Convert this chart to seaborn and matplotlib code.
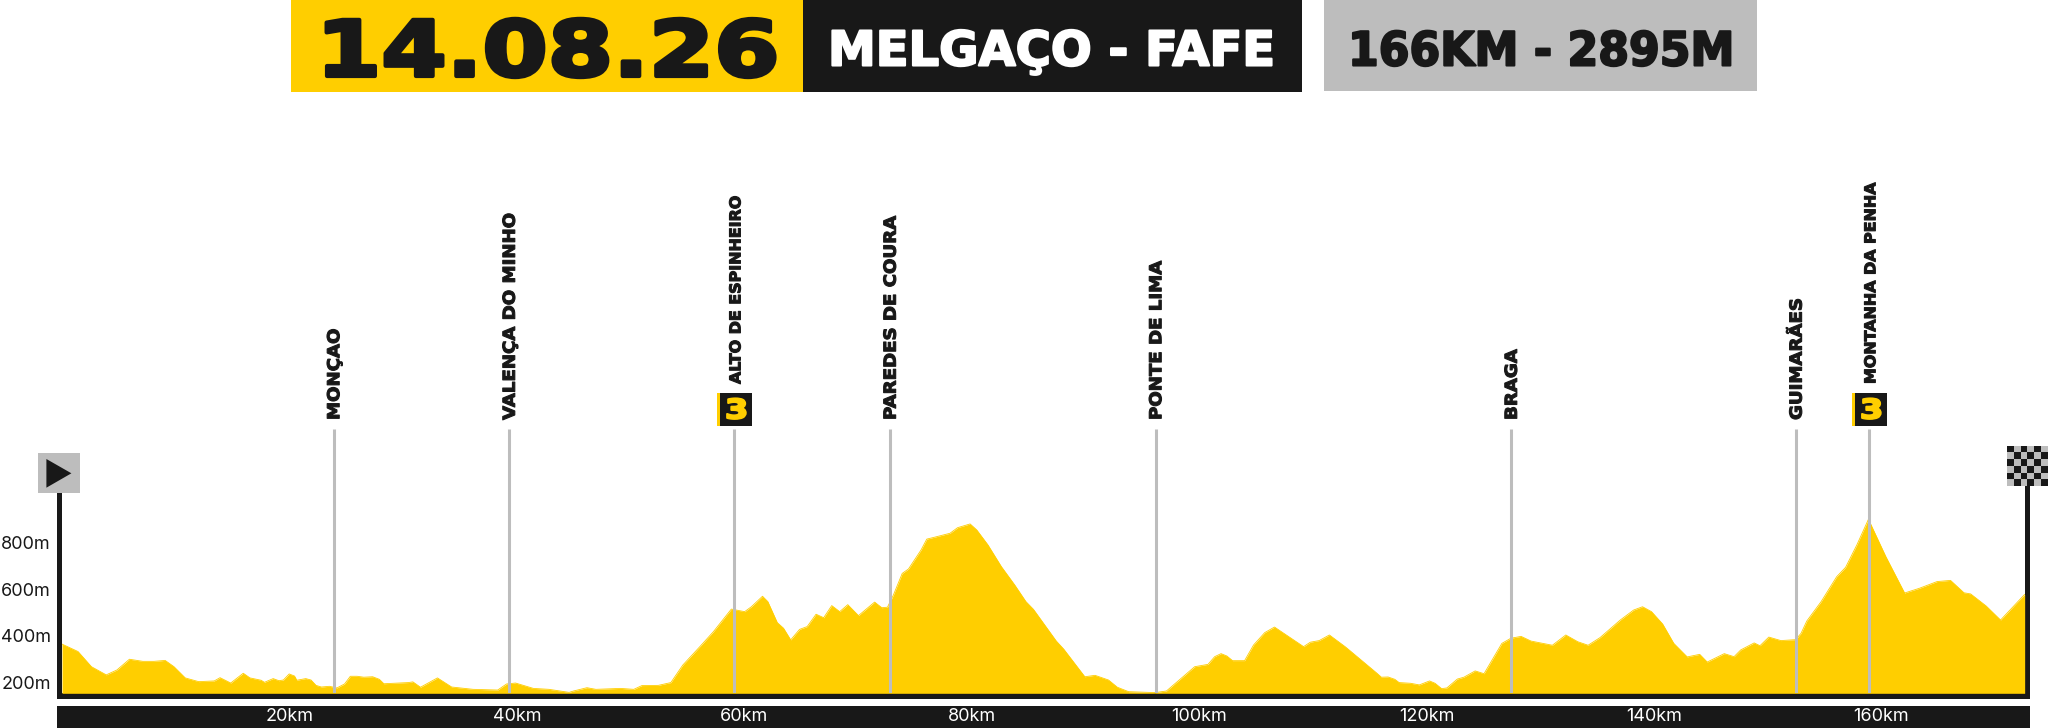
import numpy as np
import matplotlib
matplotlib.use("Agg")
import matplotlib.pyplot as plt
from matplotlib.patches import Rectangle, Polygon
from matplotlib.patheffects import AbstractPathEffect
from matplotlib.transforms import Affine2D, ScaledTranslation
import seaborn as sns

# profile
km = [0, 1.41, 2.59, 3.89, 4.83, 5.93, 7.11, 8.09, 9.07, 9.85, 10.84, 12.02, 13.39, 13.9, 14.84, 15.94,
      16.53, 17.51, 17.8, 18.57, 19.08, 19.47, 19.98, 20.45, 20.65, 21.44, 21.9, 22.34, 22.81, 23.52,
      24.18, 24.85, 25.36, 25.95, 26.54, 27.32, 27.91, 28.31, 30.47, 30.86, 31.53, 33.02, 34.27, 36.16,
      38.32, 39.1, 39.89, 41.46, 42.83, 44.6, 45.0, 46.17, 46.96, 49.11, 50.29, 51.0, 52.45, 53.55,
      54.6, 56.1, 57.29, 58.87, 60.04, 60.63, 61.61, 62.08, 62.91, 63.46, 64.09, 64.87, 65.54, 66.32,
      66.99, 67.7, 68.4, 69.11, 70.05, 71.47, 72.1, 72.6, 73.12, 73.9, 74.45, 75.55, 76.06, 76.73,
      78.1, 78.77, 79.87, 80.46, 81.44, 82.62, 83.8, 84.78, 85.44, 87.45, 88.11, 89.96, 90.86, 92.04,
      92.82, 93.81, 96.16, 97.14, 99.62, 100.79, 101.38, 101.94, 102.45, 102.95, 104.01, 104.8, 105.78,
      106.64, 109.2, 109.79, 110.57, 111.47, 112.85, 113.1, 115.65, 116.04, 116.63, 117.22, 117.6,
      118.6, 119.38, 120.28, 120.76, 121.34, 121.8, 122.72, 123.3, 124.29, 125.07, 126.64, 127.43,
      128.33, 129.2, 131.08, 132.26, 133.32, 134.22, 135.28, 137.05, 138.23, 139.01, 139.8, 140.78,
      141.76, 142.94, 144.04, 144.7, 146.2, 147.06, 147.65, 148.83, 149.34, 150.12, 151.18, 152.48,
      152.95, 153.46, 154.72, 156.09, 156.87, 157.86, 158.88, 160.41, 162.06, 163.35, 164.92, 166.1,
      167.28, 167.87, 169.24, 170.5, 172.62]
elevation = [376, 344, 279, 244, 265, 311, 302, 302, 306, 279, 231, 215, 218, 232, 209, 251,
             231, 221, 212, 228, 219, 222, 248, 239, 221, 228, 222, 199, 192, 195,
             188, 205, 238, 238, 234, 236, 225, 206, 211, 214, 191, 231, 192, 182,
             179, 205, 209, 186, 182, 169, 175, 189, 182, 186, 182, 198, 199, 211,
             286, 365, 429, 526, 515, 536, 581, 558, 468, 444, 394, 439, 451, 504,
             489, 541, 515, 545, 498, 556, 532, 534, 586, 679, 698, 779, 826, 834,
             851, 875, 891, 865, 801, 708, 629, 558, 525, 389, 354, 236, 242, 222,
             191, 172, 168, 175, 279, 289, 322, 335, 325, 305, 305, 372, 425,
             449, 365, 384, 391, 415, 365, 355, 251, 234, 235, 225, 211,
             208, 201, 218, 208, 185, 188, 226, 234, 261, 249, 379, 401,
             409, 389, 371, 415, 386, 371, 404, 479, 522, 536, 515, 462,
             379, 321, 332, 299, 335, 322, 351, 381, 369, 406, 391, 395,
             422, 475, 558, 665, 705, 801, 911, 751, 595, 615, 644, 649,
             596, 591, 539, 479, 589]

place_names = ["MONÇAO", "VALENÇA DO MINHO", "ALTO DE ESPINHEIRO", "PAREDES DE COURA",
               "PONTE DE LIMA", "BRAGA", "GUIMARÃES", "MONTANHA DA PENHA"]
place_km = [23.9, 39.34, 59.14, 72.84, 96.2, 127.47, 152.52, 158.96]
climb_cat = [None, None, 3, None, None, None, None, 3]

x_ticks = [20, 40, 60, 80, 100, 120, 140, 160]
y_ticks = [200, 400, 600, 800]

YELLOW = "#FFCE00"
BLACK = "#181818"
GREY = "#BDBDBD"
W, H = 2048, 728


def px(size):
    # font size in pixels -> points at dpi 100
    return size * 0.72


class Heavy(AbstractPathEffect):
    # no wide black font installed: stretch the glyphs along the text and thicken them
    def __init__(self, stretch, stroke):
        super().__init__()
        self.stretch = stretch
        self.stroke = stroke

    def draw_path(self, renderer, gc, tpath, affine, rgbFace=None):
        gc0 = renderer.new_gc()
        gc0.copy_properties(gc)
        gc0.set_linewidth(self.stroke)
        gc0.set_foreground(rgbFace)
        renderer.draw_path(gc0, tpath, Affine2D().scale(self.stretch, 1) + affine, rgbFace)
        gc0.restore()


sns.set_theme(style="white")
fig = plt.figure(figsize=(W / 100, H / 100), dpi=100, facecolor="white")

# overlay in pixel coords for the header, flags and bars
bg = fig.add_axes([0, 0, 1, 1], zorder=0)
bg.set_xlim(0, W)
bg.set_ylim(H, 0)
bg.axis("off")


def box(x0, y0, x1, y1, color):
    bg.add_patch(Rectangle((x0, y0), x1 - x0, y1 - y0, facecolor=color, edgecolor="none"))


def heavy_text(x, y, s, size, stretch, stroke, color, **kw):
    t = bg.text(x, y, s, fontsize=px(size), fontweight="bold", color=color, family="DejaVu Sans", **kw)
    t.set_path_effects([Heavy(stretch, stroke)])
    return t


# header
box(290.5, 0, 802.5, 92, YELLOW)
box(802.5, 0, 1302, 92, BLACK)
box(1324, 0, 1756.5, 91, GREY)
heavy_text(316, 76, "14.08.26", 77, 1.22, 3, BLACK, ha="left", va="baseline")
heavy_text(828, 65.5, "MELGAÇO - FAFE", 48, 1.0, 1.5, "white", ha="left", va="baseline")
heavy_text(1348, 65.5, "166KM - 2895M", 47, 0.94, 1.5, BLACK, ha="left", va="baseline")

# axis frame
box(56.7, 493, 62, 698.7, BLACK)
box(2025, 486, 2030, 698.7, BLACK)
box(56.7, 693.3, 2030, 698.7, BLACK)
box(56.7, 706, 2030, 728, BLACK)

# start flag
box(38.4, 453, 79.5, 493, GREY)
bg.add_patch(Polygon([(46.4, 459), (71.4, 473.3), (46.4, 487.7)], facecolor=BLACK, edgecolor="none"))

# finish flag
box(2007, 445.7, 2048, 486, GREY)
for row in range(6):
    for col in range(6):
        if (row + col) % 2 == 0:
            box(2007 + col * 6.83, 445.7 + row * 6.72, 2007 + (col + 1) * 6.83, 445.7 + (row + 1) * 6.72, BLACK)

# profile axes, 0km at x=62 and 165m on the baseline
ax = fig.add_axes([62 / W, (H - 693.3) / H, (2025 - 62) / W, (693.3 - 429) / H], zorder=1)
ax.patch.set_alpha(0)
ax.set_xlim(0, 172.65)
ax.set_ylim(165, 1298)
sns.lineplot(x=km, y=elevation, color=YELLOW, linewidth=0.6, estimator=None, sort=False, ax=ax)
ax.fill_between(km, 165, elevation, color=YELLOW, linewidth=0)
ax.vlines(place_km, 165, 1298, color=GREY, linewidth=2.2)
sns.despine(ax=ax, left=True, bottom=True)

ax.set_xticks(x_ticks, [f"{v}km" for v in x_ticks])
ax.set_yticks(y_ticks, [f"{v}m" for v in y_ticks])
ax.tick_params(axis="x", length=0, pad=10.5, labelsize=px(18), labelcolor="white")
ax.tick_params(axis="y", length=0, pad=8, labelsize=px(18), labelcolor=BLACK)
for lab in ax.get_xticklabels() + ax.get_yticklabels():
    lab.set_family("Inter")
# labels sit a little above their tick position in the original
lift = ScaledTranslation(0, 2.5 / 100, fig.dpi_scale_trans)
for lab in ax.get_yticklabels():
    lab.set_transform(lab.get_transform() + lift)

# place names and climb badges
for name, k, cat in zip(place_names, place_km, climb_cat):
    lx = 62 + k * (2025 - 62) / 172.65
    if cat:
        heavy_text(lx + 1.5, 384, name, 15, 1.06, 0.8, BLACK, rotation=90, ha="center", va="bottom")
        box(lx - 17, 393.3, lx + 18, 426, BLACK)
        box(lx - 17, 393.3, lx - 14, 426, YELLOW)
        heavy_text(lx - 9.5, 418.5, str(cat), 27, 1.25, 1.5, YELLOW, ha="left", va="baseline")
    else:
        heavy_text(lx + 0.5, 420, name, 16.5, 1.1, 0.8, BLACK, rotation=90, ha="center", va="bottom")

fig.savefig("out.png", dpi=100)
